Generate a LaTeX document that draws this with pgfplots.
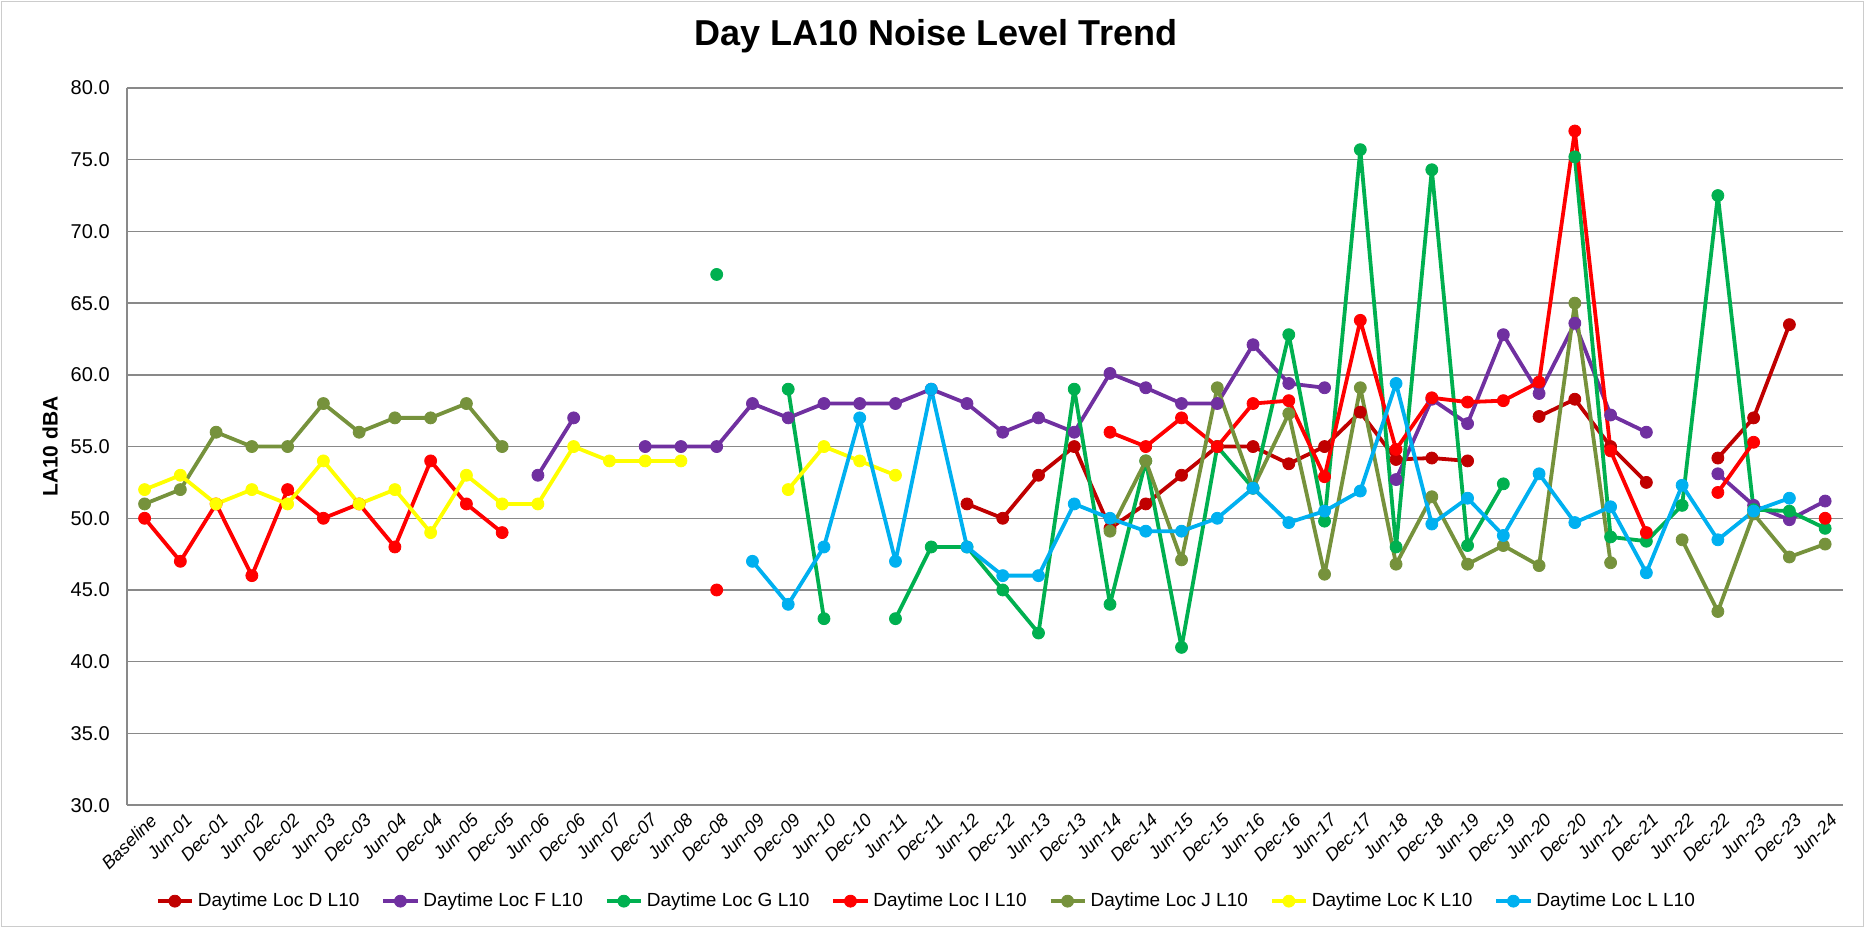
\documentclass[border=0pt]{standalone}
\usepackage{fontspec}
\setmainfont{Liberation Sans}
\usepackage{pgfplots}
\usepackage{pgfplotstable}
\pgfplotsset{compat=1.18}

\definecolor{locD}{RGB}{192,0,0}
\definecolor{locF}{RGB}{112,48,160}
\definecolor{locG}{RGB}{0,176,80}
\definecolor{locI}{RGB}{255,0,0}
\definecolor{locJ}{RGB}{118,146,60}
\definecolor{locK}{RGB}{255,255,0}
\definecolor{locL}{RGB}{0,176,240}
\definecolor{gridgray}{RGB}{137,137,137}

% one row per survey, nan = no reading
\pgfplotstableread{
idx D    F    G    I    J    K    L
0   nan  nan  nan  50   51   52   nan
1   nan  nan  nan  47   52   53   nan
2   nan  nan  nan  51   56   51   nan
3   nan  nan  nan  46   55   52   nan
4   nan  nan  nan  52   55   51   nan
5   nan  nan  nan  50   58   54   nan
6   nan  nan  nan  51   56   51   nan
7   nan  nan  nan  48   57   52   nan
8   nan  nan  nan  54   57   49   nan
9   nan  nan  nan  51   58   53   nan
10  nan  nan  nan  49   55   51   nan
11  nan  53   nan  nan  nan  51   nan
12  nan  57   nan  nan  nan  55   nan
13  nan  nan  nan  nan  nan  54   nan
14  nan  55   nan  nan  nan  54   nan
15  nan  55   nan  nan  nan  54   nan
16  nan  55   67   45   nan  nan  nan
17  nan  58   nan  nan  nan  nan  47
18  nan  57   59   nan  nan  52   44
19  nan  58   43   nan  nan  55   48
20  nan  58   nan  nan  nan  54   57
21  nan  58   43   nan  nan  53   47
22  nan  59   48   nan  nan  nan  59
23  51   58   48   nan  nan  nan  48
24  50   56   45   nan  nan  nan  46
25  53   57   42   nan  nan  nan  46
26  55   56   59   nan  nan  nan  51
27  49.3 60.1 44   56   49.1 nan  50
28  51   59.1 54   55   54   nan  49.1
29  53   58   41   57   47.1 nan  49.1
30  55   58   55   55   59.1 nan  50
31  55   62.1 52.1 58   52.1 nan  52.1
32  53.8 59.4 62.8 58.2 57.3 nan  49.7
33  55   59.1 49.8 52.9 46.1 nan  50.5
34  57.4 nan  75.7 63.8 59.1 nan  51.9
35  54.1 52.7 48   54.8 46.8 nan  59.4
36  54.2 58.3 74.3 58.4 51.5 nan  49.6
37  54.0 56.6 48.1 58.1 46.8 nan  51.4
38  nan  62.8 52.4 58.2 48.1 nan  48.8
39  57.1 58.7 nan  59.5 46.7 nan  53.1
40  58.3 63.6 75.2 77.0 65.0 nan  49.7
41  55.0 57.2 48.7 54.7 46.9 nan  50.8
42  52.5 56.0 48.4 49.0 nan  nan  46.2
43  nan  nan  50.9 nan  48.5 nan  52.3
44  54.2 53.1 72.5 51.8 43.5 nan  48.5
45  57.0 50.9 50.6 55.3 50.3 nan  50.5
46  63.5 49.9 50.5 nan  47.3 nan  51.4
47  nan  51.2 49.3 50.0 48.2 nan  nan
}\noisedata

\begin{document}
\begin{tikzpicture}
\begin{axis}[
    scale only axis,
    width=858pt,
    height=358.5pt,
    xmin=-0.5, xmax=47.5,
    ymin=30, ymax=80,
    ytick distance=5,
    xtick={0,...,47},
    xticklabels={Baseline,Jun-01,Dec-01,Jun-02,Dec-02,Jun-03,Dec-03,Jun-04,Dec-04,Jun-05,Dec-05,Jun-06,Dec-06,Jun-07,Dec-07,Jun-08,Dec-08,Jun-09,Dec-09,Jun-10,Dec-10,Jun-11,Dec-11,Jun-12,Dec-12,Jun-13,Dec-13,Jun-14,Dec-14,Jun-15,Dec-15,Jun-16,Dec-16,Jun-17,Dec-17,Jun-18,Dec-18,Jun-19,Dec-19,Jun-20,Dec-20,Jun-21,Dec-21,Jun-22,Dec-22,Jun-23,Dec-23,Jun-24},
    xticklabel style={rotate=45, anchor=north east, inner sep=1pt, yshift=-3pt,
        font=\itshape\fontsize{9}{11}\selectfont},
    yticklabel style={font=\fontsize{10}{12}\selectfont, xshift=-5pt,
        /pgf/number format/fixed,
        /pgf/number format/fixed zerofill,
        /pgf/number format/precision=1,
        /pgf/number format/assume math mode=true},
    major tick length=0pt,
    axis x line*=bottom,
    axis y line*=left,
    axis line style={draw=gridgray, line width=0.8pt},
    ymajorgrids,
    major grid style={draw=gridgray, line width=0.7pt},
    unbounded coords=jump,
    title={Day LA10 Noise Level Trend},
    title style={at={(0.4715,1)}, anchor=base, yshift=15pt,
        font=\bfseries\fontsize{18}{22}\selectfont},
    ylabel={LA10 dBA},
    ylabel style={at={(axis description cs:-0.0447,0.5)}, anchor=center,
        font=\bfseries\fontsize{10.5}{12}\selectfont},
    legend columns=7,
    legend style={at={(0.4665,-0.1339)}, anchor=center, draw=none, fill=none,
        font=\fontsize{9.5}{11}\selectfont,
        /tikz/every even column/.append style={column sep=9pt}},
    every axis plot/.append style={line width=1.9pt, line join=round,
        mark=*, mark size=3pt, mark options={solid, line width=0.4pt}},
]
\addplot[color=locD] table[x=idx, y=D] {\noisedata};
\addplot[color=locF] table[x=idx, y=F] {\noisedata};
\addplot[color=locG] table[x=idx, y=G] {\noisedata};
\addplot[color=locI] table[x=idx, y=I] {\noisedata};
\addplot[color=locJ] table[x=idx, y=J] {\noisedata};
\addplot[color=locK] table[x=idx, y=K] {\noisedata};
\addplot[color=locL] table[x=idx, y=L] {\noisedata};
\legend{Daytime Loc D L10, Daytime Loc F L10, Daytime Loc G L10, Daytime Loc I L10,
    Daytime Loc J L10, Daytime Loc K L10, Daytime Loc L L10}
\end{axis}
\draw[gray!40, line width=0.6pt]
    ([shift={(-62.6pt,-60.8pt)}]current axis.south west) rectangle
    ([shift={(10.3pt,43.3pt)}]current axis.north east);
\pgfresetboundingbox
\path ([shift={(-63.35pt,-61.5pt)}]current axis.south west) rectangle
    ([shift={(11pt,44pt)}]current axis.north east);
\end{tikzpicture}
\end{document}
